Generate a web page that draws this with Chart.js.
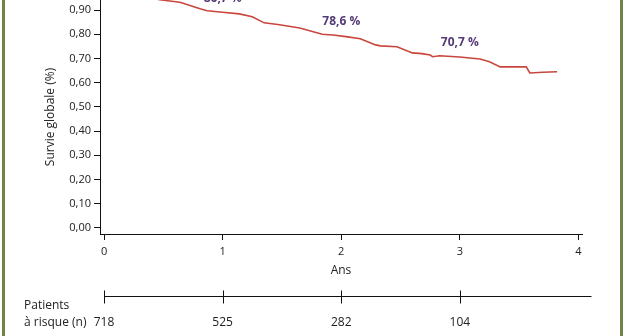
<!DOCTYPE html>
<html>
<head>
<meta charset="utf-8">
<script src="https://cdn.jsdelivr.net/npm/chart.js@4.4.1/dist/chart.umd.min.js"></script>
<style>
  html, body { margin: 0; padding: 0; background: #fff; }
  #wrap { position: relative; width: 627px; height: 336px; overflow: hidden; }
  .edge { position: absolute; top: 0; width: 3px; height: 336px; background: #6d8449; }
</style>
</head>
<body>
<div id="wrap">
  <canvas id="survChart" width="627" height="336"></canvas>
  <div class="edge" style="left:2px"></div>
  <div class="edge" style="left:620px"></div>
</div>
<script>
// survival curve (years, fraction alive)
const times = [0, 0.2, 0.35, 0.47, 0.64, 0.81, 0.87, 1.0, 1.14, 1.25, 1.35, 1.48, 1.65, 1.84, 1.93, 2.04, 2.16, 2.29, 2.33, 2.47, 2.6, 2.68, 2.75, 2.77, 2.83, 3.0, 3.17, 3.25, 3.34, 3.56, 3.59, 3.7, 3.82];
const survival = [1.0, 0.975, 0.958, 0.942, 0.932, 0.905, 0.897, 0.891, 0.884, 0.872, 0.847, 0.839, 0.826, 0.80, 0.797, 0.79, 0.781, 0.756, 0.752, 0.748, 0.723, 0.72, 0.714, 0.707, 0.711, 0.706, 0.698, 0.686, 0.665, 0.665, 0.64, 0.643, 0.645];

const xTicks = [0, 1, 2, 3, 4];
const yTicks = [0, 0.1, 0.2, 0.3, 0.4, 0.5, 0.6, 0.7, 0.8, 0.9];

// rates printed on the curve
const labelTimes = [1, 2, 3];
const labelTexts = ["86,7 %", "78,6 %", "70,7 %"];

// patients at risk
const riskTimes = [0, 1, 2, 3];
const riskCounts = [718, 525, 282, 104];

const FONT = '"Open Sans", "DejaVu Sans", sans-serif';
const TEXT = "#222";

function curveAt(t) {
  for (let i = 1; i < times.length; i++) {
    if (t <= times[i]) {
      const f = (t - times[i - 1]) / (times[i] - times[i - 1]);
      return survival[i - 1] + f * (survival[i] - survival[i - 1]);
    }
  }
  return survival[survival.length - 1];
}

const extras = {
  id: "extras",
  afterDraw(chart) {
    const ctx = chart.ctx;
    const xs = chart.scales.x;
    const ys = chart.scales.y;
    ctx.save();

    // rate labels above the curve
    ctx.fillStyle = "#553a78";
    ctx.font = "bold 12px " + FONT;
    ctx.textAlign = "center";
    ctx.textBaseline = "middle";
    for (let i = 0; i < labelTimes.length; i++) {
      const px = xs.getPixelForValue(labelTimes[i]);
      const py = ys.getPixelForValue(curveAt(labelTimes[i])) - 14;
      ctx.fillText(labelTexts[i], px, py);
    }

    // at-risk axis
    const lineY = 296.5;
    ctx.strokeStyle = "#111";
    ctx.lineWidth = 1;
    ctx.beginPath();
    ctx.moveTo(xs.getPixelForValue(0), lineY);
    ctx.lineTo(xs.getPixelForValue(4.11), lineY);
    riskTimes.forEach((t) => {
      const px = Math.round(xs.getPixelForValue(t)) + 0.5;
      ctx.moveTo(px, lineY - 6);
      ctx.lineTo(px, lineY + 7);
    });
    ctx.stroke();

    ctx.fillStyle = TEXT;
    ctx.font = "12px " + FONT;
    riskTimes.forEach((t, i) => {
      ctx.fillText(String(riskCounts[i]), xs.getPixelForValue(t), 323);
    });
    ctx.textAlign = "left";
    ctx.fillText("Patients", 24, 306);
    ctx.fillText("à risque (n)", 24, 323);
    ctx.restore();
  },
};

new Chart(document.getElementById("survChart"), {
  type: "line",
  data: {
    datasets: [
      {
        data: times.map((t, i) => ({ x: t, y: survival[i] })),
        borderColor: "#c9463d",
        borderWidth: 1.6,
        pointRadius: 0,
        tension: 0,
        fill: false,
      },
    ],
  },
  options: {
    responsive: false,
    animation: false,
    devicePixelRatio: 1,
    layout: { padding: { top: 0, right: 45, bottom: 0, left: 0 } },
    plugins: {
      legend: { display: false },
      tooltip: { enabled: false },
    },
    scales: {
      x: {
        type: "linear",
        min: -0.034,
        max: 4.03,
        afterBuildTicks: (scale) => {
          scale.ticks = xTicks.map((v) => ({ value: v }));
        },
        afterFit: (scale) => {
          scale.height = 102;
          scale.paddingLeft = 0;
          scale.paddingRight = 0;
        },
        grid: { drawOnChartArea: false, tickLength: 6, color: "#111" },
        border: { color: "#111", width: 1 },
        ticks: {
          color: TEXT,
          font: { family: FONT, size: 11 },
          padding: 5,
          maxRotation: 0,
          callback: (v) => String(v),
        },
        title: {
          display: true,
          text: "Ans",
          color: TEXT,
          font: { family: FONT, size: 12 },
          padding: { top: 0, bottom: 58 },
        },
      },
      y: {
        min: -0.0248,
        max: 0.9413,
        afterBuildTicks: (scale) => {
          scale.ticks = yTicks.map((v) => ({ value: v }));
        },
        afterFit: (scale) => {
          scale.width = 100;
          scale.paddingTop = 0;
          scale.paddingBottom = 0;
        },
        grid: { drawOnChartArea: false, tickLength: 6, color: "#111" },
        border: { color: "#111", width: 1 },
        ticks: {
          color: TEXT,
          font: { family: FONT, size: 11 },
          padding: 3,
          callback: (v) => v.toFixed(2).replace(".", ","),
        },
        title: {
          display: true,
          text: "Survie globale (%)",
          color: TEXT,
          font: { family: FONT, size: 12 },
          padding: { top: 43, bottom: 0 },
        },
      },
    },
  },
  plugins: [extras],
});
</script>
</body>
</html>
